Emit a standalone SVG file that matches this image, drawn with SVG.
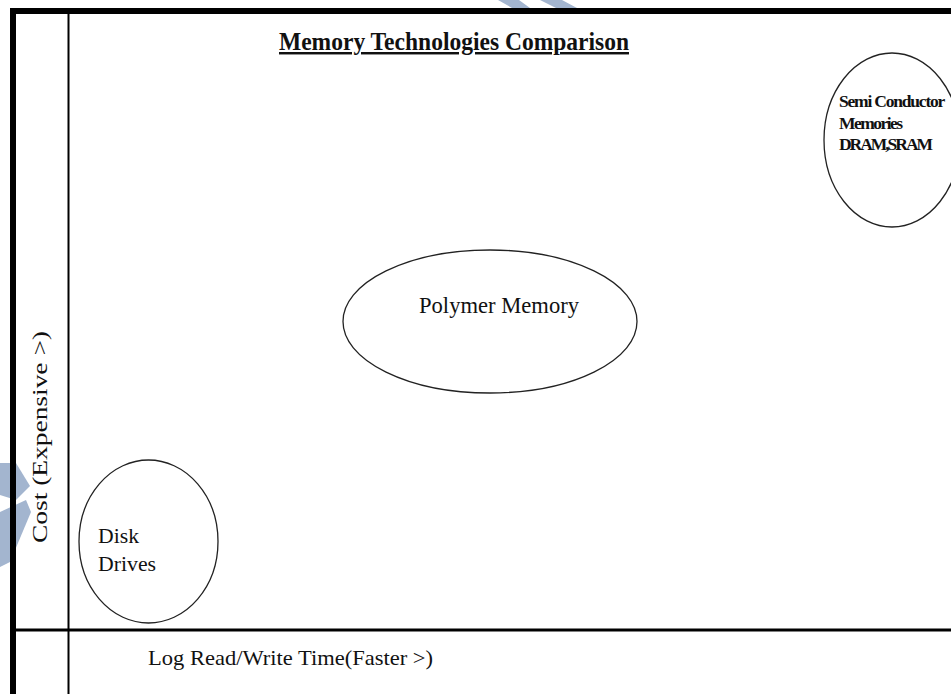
<svg xmlns="http://www.w3.org/2000/svg" width="951" height="694" viewBox="0 0 951 694">
  <style>
    .serif { font-family: "Liberation Serif", "Times New Roman", serif; fill: #111; }
    .bold { font-weight: bold; }
    .node { fill: none; stroke: #222; stroke-width: 1.3; }
    .axis { stroke: #000; fill: none; }
    .wm { fill: #a3b5cf; }
  </style>
  <rect x="0" y="0" width="951" height="694" fill="#fff"/>

  <g id="watermark">
    <polygon class="wm" points="498,0 519,0 530,8 512,8"/>
    <polygon class="wm" points="540,0 562,0 577,8 556,8"/>
    <polygon class="wm" points="0,463 16,463 30,486 16,500 0,495"/>
    <polygon class="wm" points="0,512 26,500 31,512 10,562 0,567"/>
  </g>

  <g id="frame">
    <rect x="10" y="8" width="941" height="6" fill="#000"/>
    <rect x="10" y="8" width="6" height="686" fill="#000"/>
  </g>

  <g id="axes">
    <line class="axis" x1="68.5" y1="14" x2="68.5" y2="694" stroke-width="2"/>
    <line class="axis" x1="16" y1="630" x2="951" y2="630" stroke-width="3"/>
  </g>

  <g id="connectors"></g>

  <g id="title">
    <text class="serif bold" x="279" y="50" font-size="24.5" textLength="350" lengthAdjust="spacingAndGlyphs" text-decoration="underline">Memory Technologies Comparison</text>
  </g>

  <g id="node-semiconductor">
    <ellipse class="node" cx="892" cy="140" rx="68" ry="87"/>
    <text class="serif bold" font-size="17.5" lengthAdjust="spacingAndGlyphs">
      <tspan x="839" y="107" textLength="106">Semi Conductor</tspan>
      <tspan x="839" y="129" textLength="64">Memories</tspan>
      <tspan x="839" y="150" textLength="94">DRAM,SRAM</tspan>
    </text>
  </g>

  <g id="node-polymer">
    <ellipse class="node" cx="490" cy="321.5" rx="147" ry="71.5"/>
    <text class="serif" x="419" y="313" font-size="22.5" textLength="160" lengthAdjust="spacingAndGlyphs">Polymer Memory</text>
  </g>

  <g id="node-disk">
    <ellipse class="node" cx="148.5" cy="541.5" rx="69.5" ry="81.5"/>
    <text class="serif" font-size="22">
      <tspan x="98" y="543" textLength="41" lengthAdjust="spacingAndGlyphs">Disk</tspan>
      <tspan x="98" y="571" textLength="58" lengthAdjust="spacingAndGlyphs">Drives</tspan>
    </text>
  </g>

  <g id="axis-labels">
    <text class="serif" x="148" y="665" font-size="21" textLength="285" lengthAdjust="spacingAndGlyphs">Log Read/Write Time(Faster &gt;)</text>
    <text class="serif" transform="translate(47,543) rotate(-90)" x="0" y="0" font-size="22" textLength="212" lengthAdjust="spacingAndGlyphs">Cost (Expensive &gt;)</text>
  </g>
</svg>
